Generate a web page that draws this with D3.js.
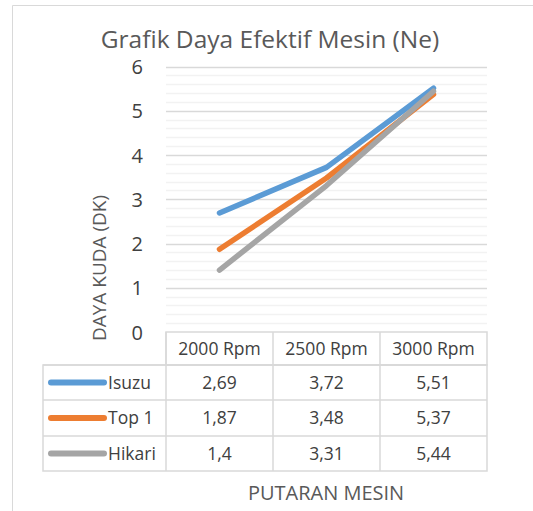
<!DOCTYPE html>
<html><head><meta charset="utf-8">
<script src="https://cdn.jsdelivr.net/npm/d3@7/dist/d3.min.js"></script>
<style>body{margin:0;background:#fff;} svg{display:block;font-family:"Open Sans",sans-serif;}</style>
</head><body>
<script>
const categories = ["2000 Rpm", "2500 Rpm", "3000 Rpm"];
const seriesNames = ["Isuzu", "Top 1", "Hikari"];
const isuzu = [2.69, 3.72, 5.51];
const top1 = [1.87, 3.48, 5.37];
const hikari = [1.4, 3.31, 5.44];
const yTicks = [0, 1, 2, 3, 4, 5, 6];
const colors = ["#5B9BD5", "#ED7D31", "#A5A5A5"];
const seriesValues = [isuzu, top1, hikari];
const fmt = v => String(v).replace(".", ",");

(function(){
const W = 533, H = 511;
const svg = d3.select("body").append("svg").attr("width", W).attr("height", H);

// outer border
svg.append("path").attr("d", `M12.5,${H}V5.5H${W}`).attr("fill","none").attr("stroke","#D9D9D9").attr("stroke-width",1);

const pLeft = 166, pRight = 487, pTop = 66.5, pBottom = 332;
const x = d3.scaleBand().domain(categories).range([pLeft, pRight]);
const y = d3.scaleLinear().domain([0, 6]).range([pBottom, pTop]);

// minor gridlines
const minor = d3.range(0, 30).map(i => i * 0.2).filter(v => Math.abs(v - Math.round(v)) > 1e-6);
svg.append("g").selectAll("line").data(minor).join("line")
  .attr("x1", pLeft).attr("x2", pRight)
  .attr("y1", d => Math.round(y(d)) + 0.5).attr("y2", d => Math.round(y(d)) + 0.5)
  .attr("stroke", "#F2F2F2").attr("stroke-width", 1.5);
// major gridlines
svg.append("g").selectAll("line").data(yTicks.filter(d => d > 0)).join("line")
  .attr("x1", pLeft).attr("x2", pRight)
  .attr("y1", d => Math.round(y(d)) + 0.5).attr("y2", d => Math.round(y(d)) + 0.5)
  .attr("stroke", "#D9D9D9").attr("stroke-width", 1.5);

// y axis ticks
const yAxis = d3.axisLeft(y).tickValues(yTicks).tickFormat(d3.format("d")).tickSize(0).tickPadding(0);
const gy = svg.append("g").attr("transform", "translate(143,0)").call(yAxis);
gy.select(".domain").remove();
gy.selectAll("text").attr("font-size", 20).attr("fill", "#404040").attr("font-family", "Open Sans, sans-serif").attr("dy", "0.36em");

// title
svg.append("text").attr("x", 270).attr("y", 48).attr("text-anchor", "middle")
  .attr("font-size", 24.5).attr("fill", "#595959").text("Grafik Daya Efektif Mesin (Ne)");

// y title
svg.append("text").attr("transform", "translate(106,268) rotate(-90)").attr("text-anchor", "middle")
  .attr("font-size", 19).attr("fill", "#595959").text("DAYA KUDA (DK)");

// lines
const line = d3.line().x((d, i) => x(categories[i]) + x.bandwidth() / 2).y(d => y(d));
svg.append("g").selectAll("path").data(seriesValues).join("path")
  .attr("d", d => line(d)).attr("fill", "none")
  .attr("stroke", (d, i) => colors[i]).attr("stroke-width", 5.5)
  .attr("stroke-linecap", "round").attr("stroke-linejoin", "round");

// data table
const rowTops = [332, 365, 400, 436, 471];
const tableLeft = 43;
const tg = svg.append("g");
const bc = "#D9D9D9";
const fs = 17.5;
tg.append("rect").attr("x", pLeft).attr("y", rowTops[0]).attr("width", pRight - pLeft).attr("height", rowTops[1] - rowTops[0])
  .attr("fill", "none").attr("stroke", bc).attr("stroke-width", 1.5);
tg.append("rect").attr("x", tableLeft).attr("y", rowTops[1]).attr("width", pRight - tableLeft).attr("height", rowTops[4] - rowTops[1])
  .attr("fill", "none").attr("stroke", bc).attr("stroke-width", 1.5);
[1,2,3].forEach(i => {
  tg.append("line").attr("x1", tableLeft).attr("x2", pRight).attr("y1", rowTops[i]).attr("y2", rowTops[i]).attr("stroke", bc).attr("stroke-width", 1.5);
});
[pLeft, x(categories[1]), x(categories[2])].forEach(xx => {
  tg.append("line").attr("x1", xx).attr("x2", xx).attr("y1", rowTops[0]).attr("y2", rowTops[4]).attr("stroke", bc).attr("stroke-width", 1.5);
});
tg.selectAll("text.h").data(categories).join("text").attr("class", "h")
  .attr("x", d => x(d) + x.bandwidth() / 2).attr("y", (rowTops[0] + rowTops[1]) / 2).attr("dy", "0.36em")
  .attr("text-anchor", "middle").attr("font-size", fs).attr("fill", "#404040").text(d => d);
seriesNames.forEach((name, si) => {
  const cy = (rowTops[si + 1] + rowTops[si + 2]) / 2;
  tg.append("line").attr("x1", 51).attr("x2", 104).attr("y1", cy).attr("y2", cy)
    .attr("stroke", colors[si]).attr("stroke-width", 6).attr("stroke-linecap", "round");
  tg.append("text").attr("x", 108).attr("y", cy).attr("dy", "0.36em").attr("font-size", fs).attr("fill", "#404040").text(name);
  seriesValues[si].forEach((v, ci) => {
    tg.append("text").attr("x", x(categories[ci]) + x.bandwidth() / 2).attr("y", cy).attr("dy", "0.36em")
      .attr("text-anchor", "middle").attr("font-size", fs).attr("fill", "#404040").text(fmt(v));
  });
});

// x title
svg.append("text").attr("x", 326).attr("y", 500).attr("text-anchor", "middle")
  .attr("font-size", 20).attr("fill", "#595959").text("PUTARAN MESIN");
})();
</script>
</body></html>
